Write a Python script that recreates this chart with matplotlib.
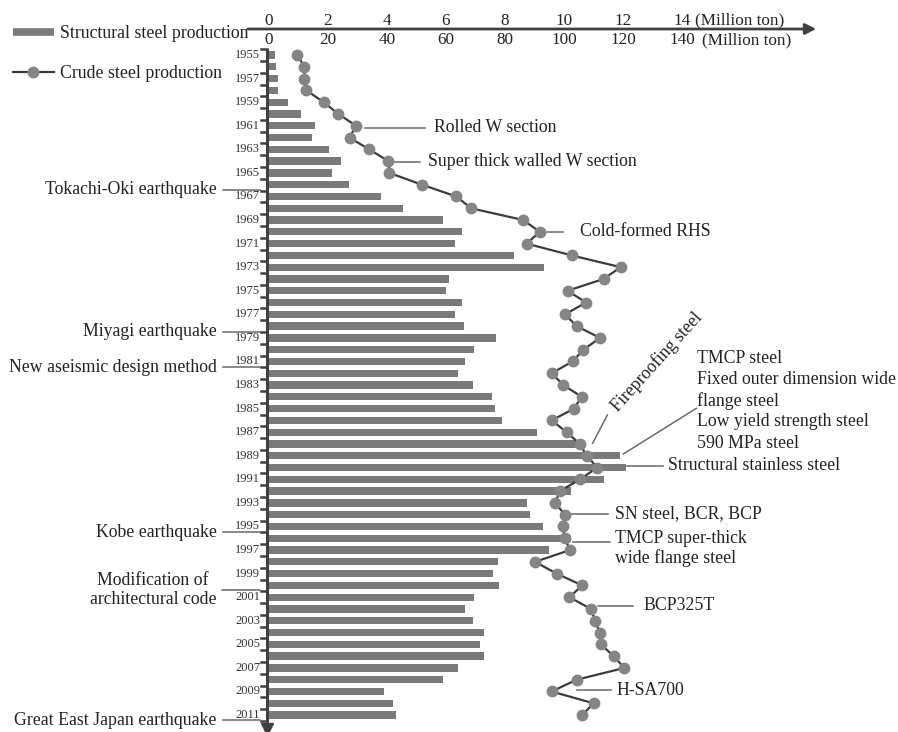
import matplotlib
matplotlib.use("Agg")
import matplotlib.pyplot as plt
from matplotlib.lines import Line2D
import numpy as np

plt.rcParams['font.family'] = ['Liberation Serif', 'DejaVu Serif']

years = list(range(1955, 2012))

# Structural steel production (million ton)
structural = [0.2, 0.25, 0.3, 0.3, 0.65, 1.1, 1.55, 1.45, 2.05, 2.45,
              2.13, 2.7, 3.8, 4.55, 5.9, 6.55, 6.3, 8.3, 9.33, 6.1,
              6.0, 6.55, 6.3, 6.6, 7.7, 6.95, 6.65, 6.4, 6.9, 7.55,
              7.65, 7.9, 9.1, 10.45, 11.9, 12.1, 11.35, 10.25, 8.75, 8.85,
              9.3, 10.25, 9.5, 7.75, 7.6, 7.8, 6.95, 6.65, 6.9, 7.3,
              7.15, 7.3, 6.4, 5.9, 3.9, 4.2, 4.3]

# Crude steel production (million ton)
crude = [9.6, 12.0, 12.0, 12.7, 18.5, 23.5, 29.5, 27.3, 33.9, 40.5,
         40.8, 51.8, 63.5, 68.5, 86.2, 91.8, 87.3, 102.6, 119.2, 113.4,
         101.2, 107.5, 100.3, 104.3, 112.2, 106.6, 102.9, 95.8, 99.8, 106.0,
         103.4, 95.8, 100.9, 105.4, 107.7, 111.3, 105.4, 98.6, 97.0, 100.3,
         99.5, 100.3, 102.0, 90.2, 97.5, 106.2, 101.8, 109.2, 110.5, 112.2,
         112.5, 116.8, 120.5, 104.3, 95.8, 110.0, 106.2]

structural_ticks = [0, 2, 4, 6, 8, 10, 12, 14]
crude_ticks = [0, 20, 40, 60, 80, 100, 120, 140]
unit_label = "(Million ton)"

# Events on the time axis (label, year position)
events_left = [
    ("Tokachi-Oki earthquake", 1966.45),
    ("Miyagi earthquake", 1978.47),
    ("New aseismic design method", 1981.5),
    ("Kobe earthquake", 1995.5),
    ("Great East Japan earthquake", 2011.42),
]
code_event = ("Modification of\narchitectural code", 2000.4)

BAR = '#7a7a7a'
LINE = '#3c3c3c'
MARK = '#858585'
AXC = '#404040'
LEAD = '#6a6a6a'
FS = 12.8

fig = plt.figure(figsize=(8.98, 7.32), dpi=100)
ax = fig.add_axes([0, 0, 1, 1])
ax.set_xlim(-269 / 29.5, (898 - 269) / 29.5)
ax.set_ylim(1950.33 + 732 / 11.786, 1950.33)
ax.axis('off')

ax2 = ax.twiny()
ax2.set_xlim(ax.get_xlim()[0] * 10, ax.get_xlim()[1] * 10)
ax2.axis('off')

# bars
ax.barh(years, structural, height=0.62, color=BAR, zorder=2)

# crude steel line
ax2.plot(crude, years, color=LINE, lw=1.6, marker='o', ms=7.5,
         mfc=MARK, mec=MARK, zorder=4)

# vertical (year) axis with arrow
x_ax = -0.06
ax.plot([x_ax, x_ax], [1954.5, 2011.9], color=AXC, lw=2.2, zorder=3,
        solid_capstyle='butt')
ax.plot([x_ax], [2012.15], marker='v', ms=8, color=AXC, zorder=3)
for y in np.arange(1954.5, 2012, 1.0):
    ax.plot([x_ax - 0.2, x_ax], [y, y], color=AXC, lw=1.8, zorder=3)
for yr in years[::2]:
    ax.text(-0.3, yr, str(yr), ha='right', va='center', fontsize=9,
            color='#333333')

# top value axis with arrow
y_top = 1952.79
ax.annotate('', xy=(18.55, y_top), xytext=(-0.72, y_top),
            arrowprops=dict(arrowstyle='-|>', color=AXC, lw=2.0,
                            mutation_scale=16, shrinkA=0, shrinkB=0))
for v in structural_ticks:
    ax.text(v, 1952.1, str(v), ha='center', va='center', fontsize=12.3,
            color='#222222')
for v in crude_ticks:
    ax2.text(v, 1953.72, str(v), ha='center', va='center', fontsize=12.3,
             color='#222222')
ax.text(14.45, 1952.1, unit_label, ha='left', va='center', fontsize=12.3,
        color='#222222')
ax.text(14.68, 1953.72, unit_label, ha='left', va='center', fontsize=12.3,
        color='#222222')

# left-side event labels
for label, yr in events_left:
    ax.plot([-1.55, -0.3], [yr, yr], color=LEAD, lw=1.1)
    ax.text(-1.77, yr, label, ha='right', va='center', fontsize=FS,
            color='#222222')
ax.plot([-1.6, -0.3], [code_event[1], code_event[1]], color=LEAD, lw=1.1)
ax.text(-3.93, code_event[1], code_event[0], ha='center', va='center',
        fontsize=FS, color='#222222', linespacing=1.15)


def note(text, x0, x1, yr, tx, ty=None, **kw):
    ax.plot([x0, x1], [yr, yr], color=LEAD, lw=1.1)
    ax.text(tx, yr if ty is None else ty, text, ha='left', va='center',
            fontsize=FS, color='#222222', **kw)


note("Rolled W section", 3.25, 5.29, 1961.15, 5.6)
note("Super thick walled W section", 4.27, 5.12, 1964.05, 5.38)
note("Cold-formed RHS", 9.41, 9.97, 1970.0, 10.54)
note("Structural stainless steel", 12.12, 13.37, 1989.84, 13.54)
note("SN steel, BCR, BCP", 10.2, 11.5, 1993.94, 11.73)
note("TMCP super-thick\nwide flange steel", 10.32, 11.56, 1996.3, 11.73,
     ty=1996.85, linespacing=1.15)
note("BCP325T", 11.16, 12.34, 2001.72, 12.69)
note("H-SA700", 10.43, 11.61, 2008.88, 11.78)

# fireproofing steel, rotated
ax.plot([10.97, 11.47], [1987.94, 1985.54], color=LEAD, lw=1.1)
ax.text(13.15, 1981.05, "Fireproofing steel", rotation=48, ha='center',
        va='center', fontsize=FS, color='#222222', rotation_mode='anchor')

# grouped steel grades
ax.plot([12.01, 14.49], [1988.85, 1984.97], color=LEAD, lw=1.1)
grades = ["TMCP steel", "Fixed outer dimension wide", "flange steel",
          "Low yield strength steel", "590 MPa steel"]
for i, g in enumerate(grades):
    ax.text(14.52, 1980.73 + i * 1.8, g, ha='left', va='center',
            fontsize=FS, color='#222222')

# legend
handles = [Line2D([], [], color=BAR, lw=5.5, solid_capstyle='butt'),
           Line2D([], [], color=LINE, lw=1.6, marker='o', ms=7.5,
                  mfc=MARK, mec=MARK)]
fig.legend(handles, ["Structural steel production", "Crude steel production"],
           loc='upper left', bbox_to_anchor=(13 / 898, 1 - 25 / 732),
           frameon=False, fontsize=FS, handlelength=2.3, handletextpad=0.35,
           labelspacing=1.3, borderpad=0, borderaxespad=0,
           labelcolor='#222222')

fig.savefig("out.png", dpi=100)
